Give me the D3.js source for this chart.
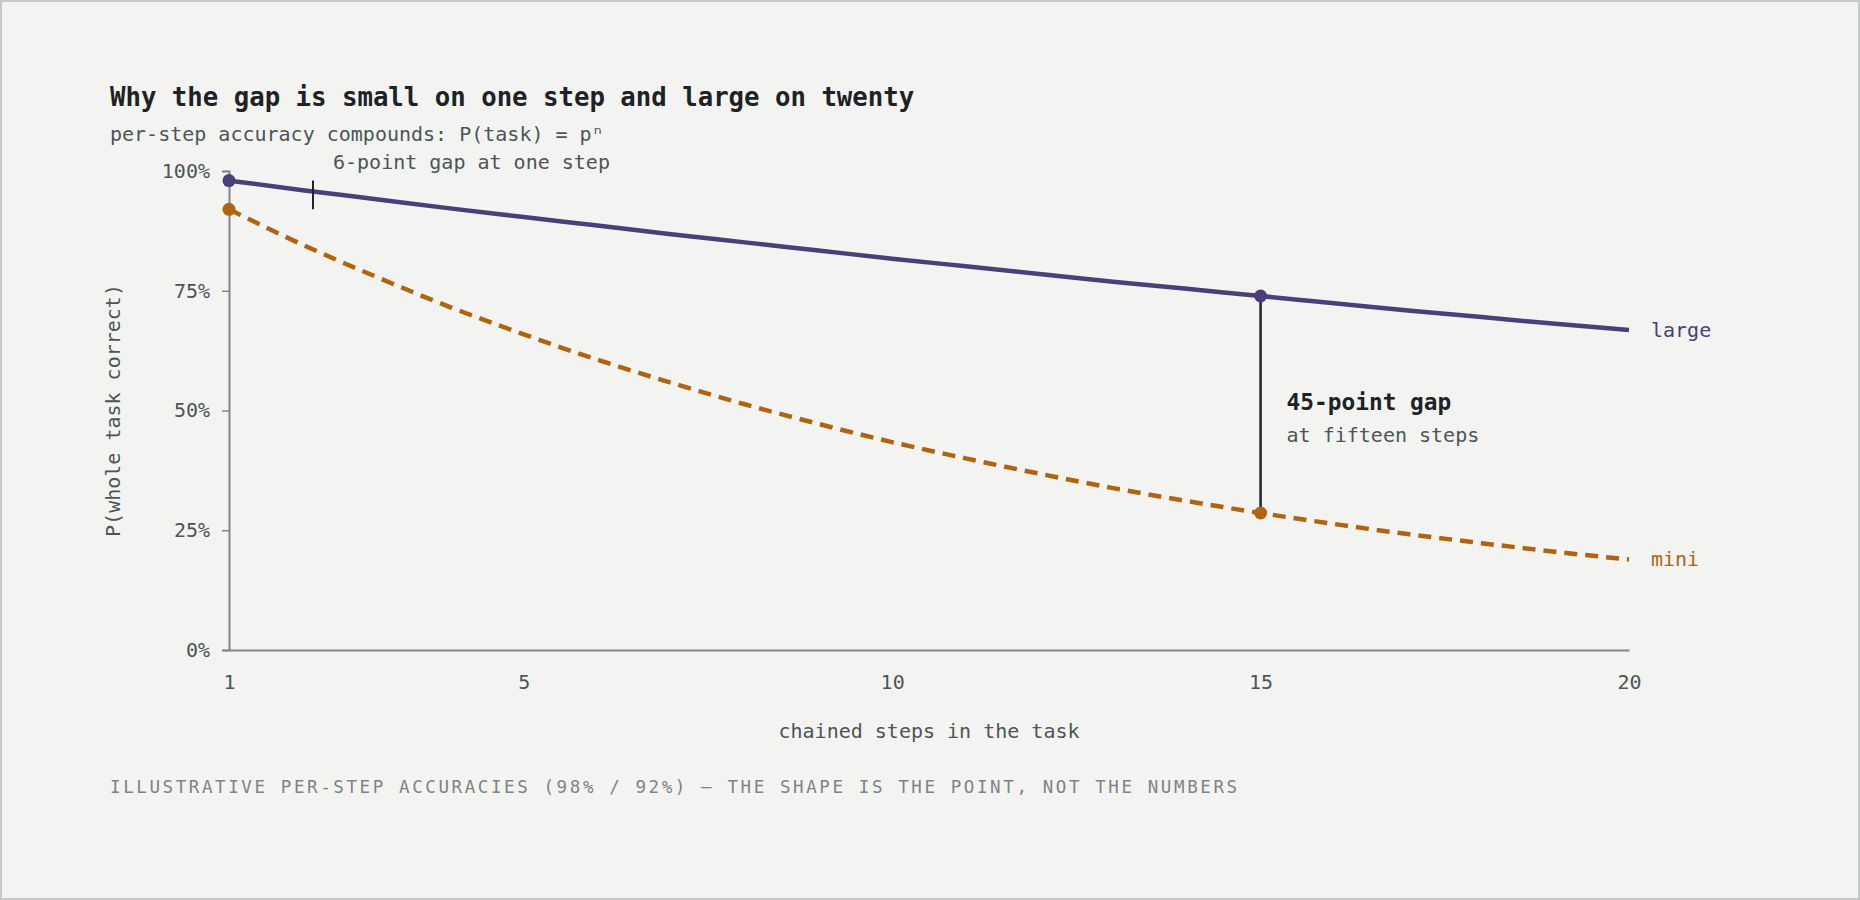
<!DOCTYPE html>
<html>
<head>
<meta charset="utf-8">
<script src="https://cdn.jsdelivr.net/npm/d3@7"></script>
<style>
  html, body { margin: 0; padding: 0; background: #f3f4f1; }
  svg { display: block; font-family: "DejaVu Sans Mono", "Liberation Mono", monospace; }
</style>
</head>
<body>
<div id="chart"></div>
<script>
// values (per-step 98% vs 92%)
const steps = d3.range(1, 21);
const largeVals = [0.980, 0.960, 0.941, 0.922, 0.904, 0.886, 0.868, 0.851, 0.834, 0.817,
                   0.801, 0.785, 0.769, 0.754, 0.739, 0.724, 0.709, 0.695, 0.681, 0.668];
const miniVals  = [0.920, 0.846, 0.779, 0.716, 0.659, 0.606, 0.558, 0.513, 0.472, 0.434,
                   0.400, 0.368, 0.338, 0.311, 0.286, 0.263, 0.242, 0.223, 0.205, 0.189];
const xTicks = [1, 5, 10, 15, 20];
const yTicks = [0, 0.25, 0.5, 0.75, 1];
const seriesNames = ["large", "mini"];
const gapStep = 15;

// Setup
const width = 1860;
const height = 900;
const purple = "#4a3f7b";
const orange = "#b0640f";

const svg = d3.select("#chart")
              .append("svg")
              .attr("width", width)
              .attr("height", height);

svg.append("rect")
   .attr("x", 1).attr("y", 1)
   .attr("width", width - 2).attr("height", height - 2)
   .attr("fill", "#f3f4f1")
   .attr("stroke", "#c5cac6")
   .attr("stroke-width", 2);

const x = d3.scaleLinear().domain([1, 20]).range([229, 1629]);
const y = d3.scaleLinear().domain([0, 1]).range([650, 171]);

// title + subtitle
svg.append("text")
   .attr("x", 110).attr("y", 106)
   .attr("font-size", 25.7).attr("font-weight", "bold")
   .attr("fill", "#1c2226")
   .text("Why the gap is small on one step and large on twenty");

svg.append("text")
   .attr("x", 110).attr("y", 141)
   .attr("font-size", 20)
   .attr("fill", "#4d5558")
   .text("per-step accuracy compounds: P(task) = p\u207F");

// axes
const yAxis = svg.append("g")
   .attr("transform", `translate(${x(1)},0)`)
   .call(d3.axisLeft(y).tickValues(yTicks).tickFormat(d3.format(".0%"))
           .tickSize(7).tickPadding(12));

const xAxis = svg.append("g")
   .attr("transform", `translate(0,${y(0)})`)
   .call(d3.axisBottom(x).tickValues(xTicks).tickSize(0).tickPadding(25));

[yAxis, xAxis].forEach(g => {
  g.select(".domain").attr("stroke", "#7f8784").attr("stroke-width", 2);
  g.selectAll(".tick line").attr("stroke", "#7f8784").attr("stroke-width", 1.5);
  g.selectAll(".tick text")
   .attr("font-family", "DejaVu Sans Mono, monospace")
   .attr("font-size", 20)
   .attr("fill", "#4d5558");
});

svg.append("text")
   .attr("transform", `translate(120,${(y(0) + y(1)) / 2}) rotate(-90)`)
   .attr("text-anchor", "middle")
   .attr("font-size", 20)
   .attr("fill", "#4d5558")
   .text("P(whole task correct)");

svg.append("text")
   .attr("x", (x(1) + x(20)) / 2).attr("y", 738)
   .attr("text-anchor", "middle")
   .attr("font-size", 20)
   .attr("fill", "#4d5558")
   .text("chained steps in the task");

svg.append("text")
   .attr("x", 110).attr("y", 793)
   .attr("font-size", 17.5)
   .attr("letter-spacing", 2.6)
   .attr("fill", "#7b8486")
   .text("ILLUSTRATIVE PER-STEP ACCURACIES (98% / 92%) \u2014 THE SHAPE IS THE POINT, NOT THE NUMBERS");

// lines
const line = d3.line()
               .x((d, i) => x(steps[i]))
               .y(d => y(d))
               .curve(d3.curveMonotoneX);

const series = [
  { name: seriesNames[0], values: largeVals, color: purple, dash: null },
  { name: seriesNames[1], values: miniVals, color: orange, dash: "13 8" }
];

// gap marker at fifteen steps
const gi = steps.indexOf(gapStep);
svg.append("line")
   .attr("x1", x(gapStep)).attr("x2", x(gapStep))
   .attr("y1", y(largeVals[gi])).attr("y2", y(miniVals[gi]))
   .attr("stroke", "#1f2428").attr("stroke-width", 2.5);

series.forEach(s => {
  svg.append("path")
     .datum(s.values)
     .attr("d", line)
     .attr("fill", "none")
     .attr("stroke", s.color)
     .attr("stroke-width", 4.5)
     .attr("stroke-dasharray", s.dash);

  svg.selectAll(null)
     .data([0, gi])
     .enter().append("circle")
       .attr("cx", i => x(steps[i]))
       .attr("cy", i => y(s.values[i]))
       .attr("r", 6.5)
       .attr("fill", s.color);

  svg.append("text")
     .attr("x", x(20) + 22)
     .attr("y", y(s.values[s.values.length - 1]))
     .attr("dy", "0.35em")
     .attr("font-size", 20)
     .attr("fill", s.color)
     .text(s.name);
});

// small tick spanning the one-step gap (98% to 92%)
const tickX = x(1) + 84;
svg.append("line")
   .attr("x1", tickX).attr("x2", tickX)
   .attr("y1", y(largeVals[0])).attr("y2", y(miniVals[0]))
   .attr("stroke", "#1f2428").attr("stroke-width", 2);

svg.append("text")
   .attr("x", tickX + 20).attr("y", 169)
   .attr("font-size", 20)
   .attr("fill", "#4d5558")
   .text("6-point gap at one step");

svg.append("text")
   .attr("x", x(gapStep) + 26).attr("y", 410)
   .attr("font-size", 22.8).attr("font-weight", "bold")
   .attr("fill", "#1c2226")
   .text("45-point gap");

svg.append("text")
   .attr("x", x(gapStep) + 26).attr("y", 442)
   .attr("font-size", 20)
   .attr("fill", "#4d5558")
   .text("at fifteen steps");
</script>
</body>
</html>
